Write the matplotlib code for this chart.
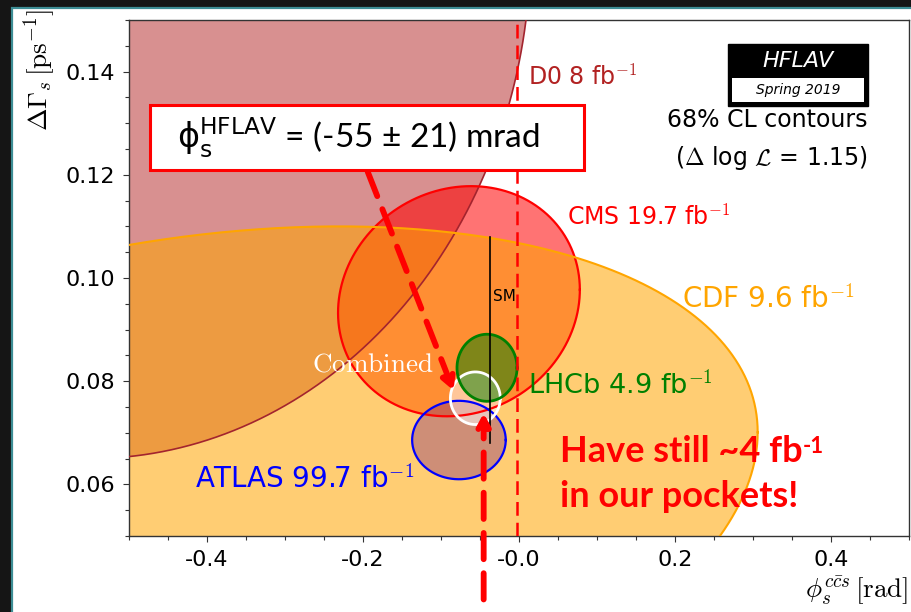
import numpy as np
import matplotlib
matplotlib.use("Agg")
import matplotlib.pyplot as plt
from matplotlib.patches import Rectangle
from matplotlib.ticker import FixedLocator, MultipleLocator, FixedFormatter

plt.rcParams['mathtext.fontset'] = 'cm'
plt.rcParams['font.family'] = ['DejaVu Sans']

# ---------------- data ----------------
experiments = ["D0", "CMS", "CDF", "ATLAS", "Combined", "LHCb"]
phi_center = [-0.550, -0.077, -0.460, -0.077, -0.056, -0.041]
dg_center = [0.1645, 0.0955, 0.053, 0.0686, 0.0767, 0.0826]
phi_half = [0.565, 0.155, 0.766, 0.060, 0.032, 0.0385]
dg_half = [0.0995, 0.0223, 0.057, 0.0076, 0.0051, 0.0065]
correlation = [0.0, 0.1, 0.3, 0.0, 0.0, 0.0]

fill_colors = ["firebrick", "red", "orange", (0.45, 0.1, 0.5), "white", "green"]
fill_alphas = [0.5, 0.55, 0.55, 0.35, 0.5, 0.5]
edge_colors = ["#a3242e", "red", "orange", "blue", "white", "green"]
edge_widths = [1.2, 1.6, 1.5, 1.6, 2.0, 2.0]

label_text = ["D0 8 fb$^{-1}$", "CMS 19.7 fb$^{-1}$", "CDF 9.6 fb$^{-1}$",
              "ATLAS 99.7 fb$^{-1}$", r"$\mathrm{Combined}$", "LHCb 4.9 fb$^{-1}$"]
label_phi = [0.011, 0.062, 0.209, -0.415, -0.265, 0.011]
label_dg = [0.1388, 0.1117, 0.0958, 0.0610, 0.0833, 0.0794]
label_colors = ["firebrick", "red", "orange", "blue", "white", "green"]
label_sizes = [17, 17, 20, 20, 19.5, 19.5]

sm_phi = -0.0369
sm_dg_range = [0.068, 0.108]

x_ticks = [-0.4, -0.2, 0.0, 0.2, 0.4]
x_ticklabels = ["-0.4", "-0.2", "-0.0", "0.2", "0.4"]
y_ticks = [0.06, 0.08, 0.10, 0.12, 0.14]
y_ticklabels = ["0.06", "0.08", "0.10", "0.12", "0.14"]

phi_hflav_line = -0.002
arrow1_tail = (-0.194, 0.1206)
arrow1_tip = (-0.084, 0.0782)
arrow2_tail = (-0.0453, 0.0377)
arrow2_tip = (-0.0453, 0.0738)

# ---------------- figure ----------------
W, H = 912, 612
fig = plt.figure(figsize=(W / 100, H / 100), dpi=100)
fig.patch.set_facecolor('#151515')
fig.patches.append(Rectangle((12.5 / W, -0.05), 1.1, 1 - 7.5 / H + 0.05,
                             transform=fig.transFigure, facecolor='white',
                             edgecolor='#3d8d94', lw=1.6, zorder=-10))

ax = fig.add_axes([129 / W, 1 - 536 / H, 780 / W, 516 / H])
ax.set_xlim(-0.5, 0.5)
ax.set_ylim(0.05, 0.15)

t = np.linspace(0, 2 * np.pi, 600)
for i, name in enumerate(experiments):
    r = correlation[i]
    xs = phi_center[i] + phi_half[i] * np.cos(t)
    ys = dg_center[i] + dg_half[i] * (r * np.cos(t) + np.sqrt(1 - r * r) * np.sin(t))
    ax.fill(xs, ys, color=fill_colors[i], alpha=fill_alphas[i], lw=0, zorder=1 + i * 0.1)
    ax.plot(xs, ys, color=edge_colors[i], lw=edge_widths[i], zorder=3 + i * 0.1)

for i, name in enumerate(experiments):
    ax.text(label_phi[i], label_dg[i], label_text[i], color=label_colors[i],
            fontsize=label_sizes[i], ha='left', va='center', zorder=6)

# SM
ax.plot([sm_phi, sm_phi], sm_dg_range, color='black', lw=1.2, zorder=5)
ax.text(sm_phi + 0.004, 0.0964, "SM", fontsize=11, ha='left', va='center', zorder=6)

# red dashed vertical line
ax.axvline(phi_hflav_line, color='red', lw=1.8, ls=(0, (5.5, 2.8)), zorder=5)

# ticks
ax.xaxis.set_major_locator(FixedLocator(x_ticks))
ax.xaxis.set_major_formatter(FixedFormatter(x_ticklabels))
ax.xaxis.set_minor_locator(MultipleLocator(0.05))
ax.yaxis.set_major_locator(FixedLocator(y_ticks))
ax.yaxis.set_major_formatter(FixedFormatter(y_ticklabels))
ax.yaxis.set_minor_locator(MultipleLocator(0.005))
ax.tick_params(which='both', direction='out', width=0.8, color='#333333')
ax.tick_params(which='major', length=4, labelsize=16, pad=6)
ax.tick_params(which='minor', length=3)
for s in ax.spines.values():
    s.set_color('#333333')
    s.set_linewidth(1.0)

# axis labels
fig.text(40 / W, 1 - 9 / H, r"$\Delta\Gamma_s\,[\mathrm{ps}^{-1}]$", rotation=90,
         ha='center', va='top', fontsize=19.5)
fig.text(908 / W, 1 - 607 / H, r"$\phi_s^{c\bar{c}s}\,[\mathrm{rad}]$",
         ha='right', va='bottom', fontsize=19.5)

# HFLAV logo
ax.add_patch(Rectangle((0.768, 0.833), 0.179, 0.120, transform=ax.transAxes,
                       facecolor='black', edgecolor='black', zorder=8))
ax.add_patch(Rectangle((0.773, 0.841), 0.169, 0.047, transform=ax.transAxes,
                       facecolor='white', edgecolor='none', zorder=9))
ax.text(0.858, 0.921, "HFLAV", transform=ax.transAxes, color='white', style='italic',
        fontsize=16, ha='center', va='center', zorder=10)
ax.text(0.858, 0.865, "Spring 2019", transform=ax.transAxes, color='black', style='italic',
        fontsize=10, ha='center', va='center', zorder=10)
ax.text(0.947, 0.806, "68% CL contours", transform=ax.transAxes, fontsize=17,
        ha='right', va='center', zorder=10)
ax.text(0.947, 0.733, r"($\Delta$ log $\mathcal{L}$ = 1.15)", transform=ax.transAxes,
        fontsize=17, ha='right', va='center', zorder=10)

# arrows
for tail, tip in [(arrow1_tail, arrow1_tip), (arrow2_tail, arrow2_tip)]:
    ax.annotate("", xy=tip, xytext=tail, xycoords='data', textcoords='data',
                annotation_clip=False,
                arrowprops=dict(arrowstyle="-|>,head_length=0.7,head_width=0.38",
                                color='red', lw=4.2, ls=(0, (4.5, 2.4)),
                                shrinkA=0, shrinkB=0), zorder=12)

# result box
ax.add_patch(Rectangle((0.027, 0.709), 0.556, 0.126, transform=ax.transAxes,
                       facecolor='white', edgecolor='red', lw=2.2, zorder=13))
ax.text(0.294, 0.772, r"$\mathrm{\phi}_\mathrm{s}^\mathrm{HFLAV}$ = (-55 ± 21) mrad",
        transform=ax.transAxes, fontsize=24, family=['Lato', 'DejaVu Sans'],
        math_fontfamily='dejavusans', ha='center', va='center', zorder=14)

# pockets text
t1 = ax.text(0.5526, 0.163, "Have still ~4 fb", transform=ax.transAxes, fontsize=26,
             fontweight='bold', family=['Lato'], color='red', ha='left', va='center', zorder=14)
ax.annotate("-1", xy=(1.0, 0.97), xycoords=t1, fontsize=16, fontweight='bold',
            family=['Lato'], color='red', ha='left', va='top', zorder=14)
ax.text(0.5526, 0.0775, "in our pockets!", transform=ax.transAxes, fontsize=26,
        fontweight='bold', family=['Lato'], color='red', ha='left', va='center', zorder=14)

fig.savefig("out.png", dpi=100, facecolor=fig.get_facecolor())
